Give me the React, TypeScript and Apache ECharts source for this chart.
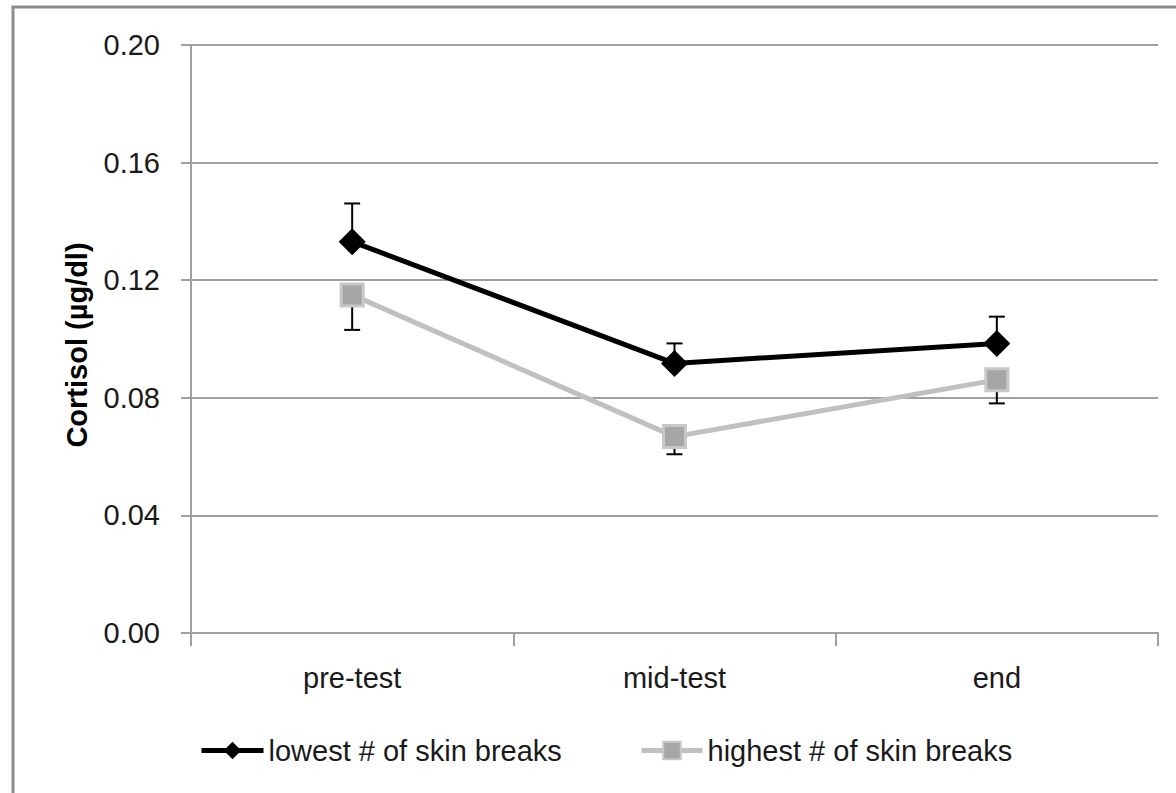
import React, { useEffect, useRef } from "react";
import * as echarts from "echarts";

const categories = ["pre-test", "mid-test", "end"];
const lowestName = "lowest # of skin breaks";
const highestName = "highest # of skin breaks";
const lowestValues = [0.1331, 0.0917, 0.0985];
const highestValues = [0.115, 0.0668, 0.0861];
// error bar ends (upper for lowest, lower for highest)
const lowestErrTop = [0.1461, 0.0985, 0.1076];
const highestErrBottom = [0.1031, 0.0608, 0.0781];
const yTicks = [0, 0.04, 0.08, 0.12, 0.16, 0.2];

const FONT = "'Liberation Sans', Arial, sans-serif";

export default function App() {
  const ref = useRef<HTMLDivElement>(null);
  useEffect(() => {
    document.body.style.margin = "0";
    const chart = echarts.init(ref.current!, null, { renderer: "svg" });
    const errData = [
      ...lowestValues.map((v, i) => [i, v, lowestErrTop[i]]),
      ...highestValues.map((v, i) => [i, v, highestErrBottom[i]]),
    ];
    chart.setOption({
      animation: false,
      backgroundColor: "#ffffff",
      textStyle: { fontFamily: FONT },
      graphic: [
        {
          type: "rect",
          shape: { x: 13, y: 7, width: 1300, height: 900 },
          style: { fill: "none", stroke: "#8c8c8c", lineWidth: 3 },
          silent: true,
        },
      ],
      grid: { left: 191, right: 18, top: 45, bottom: 160 },
      legend: [
        {
          data: [lowestName],
          left: 194,
          top: 731,
          itemWidth: 62,
          itemHeight: 22,
          lineStyle: { width: 5 },
          textStyle: { fontSize: 29, color: "#1a1a1a", fontFamily: FONT },
        },
        {
          data: [highestName],
          left: 634,
          top: 731,
          itemWidth: 61,
          itemHeight: 22,
          lineStyle: { width: 5 },
          textStyle: { fontSize: 29, color: "#1a1a1a", fontFamily: FONT },
        },
      ],
      xAxis: {
        type: "category",
        data: categories,
        boundaryGap: true,
        axisLine: { lineStyle: { color: "#a0a0a0", width: 2 } },
        axisTick: { show: true, length: 13, interval: 0, lineStyle: { color: "#a0a0a0", width: 2 } },
        axisLabel: { fontSize: 29, color: "#1a1a1a", margin: 30, fontFamily: FONT },
        splitLine: { show: false },
      },
      yAxis: {
        type: "value",
        min: 0,
        max: 0.2,
        interval: 0.04,
        name: "Cortisol (µg/dl)",
        nameLocation: "middle",
        nameGap: 100,
        nameTextStyle: { fontSize: 29, fontWeight: "bold", color: "#000", fontFamily: FONT, padding: [0, 12, 0, 0] },
        axisLine: { show: true, lineStyle: { color: "#a0a0a0", width: 2 } },
        axisTick: { show: true, length: 10, lineStyle: { color: "#a0a0a0", width: 2 } },
        axisLabel: {
          fontSize: 29,
          color: "#1a1a1a",
          margin: 31,
          fontFamily: FONT,
          formatter: (v: number) => {
            const t = yTicks.find((x) => Math.abs(x - v) < 1e-9);
            return (t !== undefined ? t : v).toFixed(2);
          },
        },
        splitLine: { show: true, lineStyle: { color: "#a0a0a0", width: 2 } },
      },
      series: [
        {
          type: "custom",
          name: "err",
          z: 1,
          data: errData,
          encode: { x: 0, y: [1, 2] },
          renderItem: (params: any, api: any) => {
            const x = api.value(0);
            const p0 = api.coord([x, api.value(1)]);
            const p1 = api.coord([x, api.value(2)]);
            const hw = 8;
            return {
              type: "group",
              children: [
                {
                  type: "line",
                  shape: { x1: p0[0], y1: p0[1], x2: p1[0], y2: p1[1] },
                  style: { stroke: "#000", lineWidth: 2 },
                },
                {
                  type: "line",
                  shape: { x1: p1[0] - hw, y1: p1[1], x2: p1[0] + hw, y2: p1[1] },
                  style: { stroke: "#000", lineWidth: 2 },
                },
              ],
            };
          },
        },
        {
          type: "line",
          name: highestName,
          z: 3,
          data: highestValues,
          symbol: "rect",
          symbolSize: 22,
          lineStyle: { color: "#c0c0c0", width: 5 },
          itemStyle: { color: "#a6a6a6", borderColor: "#c8c8c8", borderWidth: 3 },
        },
        {
          type: "line",
          name: lowestName,
          z: 4,
          data: lowestValues,
          symbol: "diamond",
          symbolSize: 27,
          lineStyle: { color: "#000000", width: 5 },
          itemStyle: { color: "#000000", borderWidth: 0 },
        },
      ],
    });
    return () => chart.dispose();
  }, []);
  return <div ref={ref} style={{ width: 1176, height: 793 }} />;
}
